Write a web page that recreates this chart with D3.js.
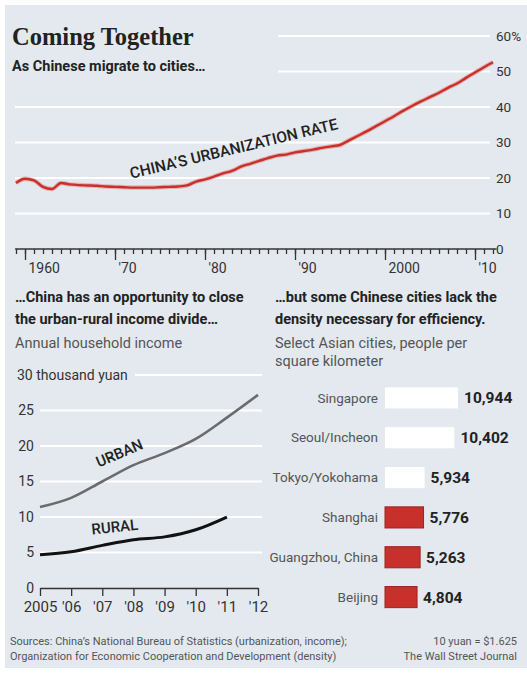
<!DOCTYPE html>
<html>
<head>
<meta charset="utf-8">
<script src="https://cdn.jsdelivr.net/npm/d3@7"></script>
<style>
  body { margin: 0; background: #fff; }
  svg { display: block; font-family: "Roboto", "Liberation Sans", sans-serif; }
</style>
</head>
<body>
<svg id="chart"></svg>
<script>
const width = 527, height = 673

// urbanization rate, percent of population
const urbYears = d3.range(1959, 2013)
const urbRate = [
    18.6, 19.8, 19.3, 17.5, 16.9, 18.6, 18.2, 18.0, 17.9, 17.8,
    17.6, 17.5, 17.4, 17.3, 17.3, 17.3, 17.4, 17.5, 17.6, 17.9,
    19.0, 19.6, 20.4, 21.3, 22.0, 23.2, 24.0, 24.8, 25.6, 26.3,
    26.6, 27.2, 27.6, 28.0, 28.5, 28.9, 29.3, 30.6, 31.9, 33.2,
    34.6, 36.0, 37.4, 38.9, 40.3, 41.6, 42.8, 44.0, 45.4, 46.6,
    48.2, 49.7, 51.2, 52.6,
]
const urbYTicks = [0, 10, 20, 30, 40, 50, 60]
const urbMajor = [1960, 1970, 1980, 1990, 2000, 2010]
const urbMajorLabels = ["1960", "'70", "'80", "'90", "2000", "'10"]

// annual household income, thousand yuan
const incomeYears = [2005, 2006, 2007, 2008, 2009, 2010, 2011, 2012]
const urbanIncome = [11.4, 12.7, 15.0, 17.3, 19.0, 21.0, 24.0, 27.2]
const ruralYears = [2005, 2006, 2007, 2008, 2009, 2010, 2011]
const ruralIncome = [4.7, 5.1, 6.0, 6.8, 7.2, 8.2, 10.0]
const incomeYTicks = [0, 5, 10, 15, 20, 25, 30]
const incomeXLabels = ["2005", "'06", "'07", "'08", "'09", "'10", "'11", "'12"]

// density, people per square kilometer
const cities = ["Singapore", "Seoul/Incheon", "Tokyo/Yokohama", "Shanghai", "Guangzhou, China", "Beijing"]
const density = [10944, 10402, 5934, 5776, 5263, 4804]
const isChinese = [false, false, false, true, true, true]

const bg = "#e3e9ef", red = "#c8302c", ink = "#222", grayText = "#555"

const svg = d3.select("svg#chart")
    .attr("viewBox", [0, 0, width, height])
    .attr("width", width)
    .attr("height", height)

svg.append("rect")
    .attr("x", 5).attr("y", 5)
    .attr("width", width - 5).attr("height", height - 10)
    .attr("fill", bg)

// Titles
svg.append("text")
    .attr("x", 12).attr("y", 45)
    .attr("font-family", "Liberation Serif, serif")
    .attr("font-weight", "bold")
    .attr("font-size", 24.5)
    .attr("fill", ink)
    .text("Coming Together")

svg.append("text")
    .attr("x", 12).attr("y", 71)
    .attr("font-weight", "bold")
    .attr("font-size", 14.5)
    .attr("fill", ink)
    .text("As Chinese migrate to cities…")

// ---------- Top: urbanization rate ----------
const x1 = d3.scaleLinear().domain([1960, 2010]).range([25, 475])
const y1 = d3.scaleLinear().domain([0, 60]).range([249, 36])

svg.append("g").classed("h-grid", true)
    .selectAll("line")
    .data(urbYTicks.filter(d => d > 0))
    .join("line")
    .attr("x1", d => d >= 50 ? 278 : 15)
    .attr("x2", 490)
    .attr("y1", d => y1(d))
    .attr("y2", d => y1(d))
    .attr("stroke", "#fff")
    .attr("stroke-width", 2.2)

svg.append("g").classed("y-labels", true)
    .selectAll("text")
    .data(urbYTicks)
    .join("text")
    .attr("x", 496)
    .attr("y", d => y1(d))
    .attr("dy", "0.35em")
    .attr("font-size", 13.5)
    .attr("fill", "#333")
    .text(d => d === 60 ? "60%" : d)

// minor ticks
svg.append("g").classed("x-minor", true)
    .attr("transform", `translate(0, ${y1(0)})`)
    .call(d3.axisBottom(x1).tickValues(urbYears).tickSize(5).tickSizeOuter(0).tickFormat(""))
    .call(g => g.select(".domain").attr("d", `M${x1(1958.9)},0H${x1(2012.4)}`))

svg.append("g").classed("x-major", true)
    .attr("transform", `translate(0, ${y1(0)})`)
    .call(d3.axisBottom(x1).tickValues(urbMajor).tickSize(11).tickFormat((d, i) => urbMajorLabels[i]))
    .call(g => g.select(".domain").remove())
    .call(g => g.selectAll("text")
        .attr("text-anchor", "start")
        .attr("x", 3)
        .attr("y", 14)
        .attr("font-size", 14)
        .attr("font-family", "Roboto, sans-serif")
        .attr("fill", "#333"))

svg.selectAll(".x-minor line, .x-major line, .x-minor path").attr("stroke", "#333").attr("stroke-width", 1.3)

const urbLine = d3.line()
    .x((d, i) => x1(urbYears[i]))
    .y(d => y1(d))
    .curve(d3.curveMonotoneX)

svg.append("path")
    .datum(urbRate)
    .attr("d", urbLine)
    .attr("fill", "none")
    .attr("stroke", "#e48f8a")
    .attr("stroke-width", 4.5)
    .attr("opacity", 0.6)

svg.append("path")
    .datum(urbRate)
    .attr("d", urbLine)
    .attr("fill", "none")
    .attr("stroke", red)
    .attr("stroke-width", 2.4)

svg.append("text")
    .attr("transform", `translate(${x1(1983.2)}, ${y1(28.3)}) rotate(-13.5)`)
    .attr("text-anchor", "middle")
    .attr("dy", "0.35em")
    .attr("font-size", 15.5)
    .attr("font-weight", 500)
    .attr("fill", ink)
    .text("CHINA’S URBANIZATION RATE")

// ---------- Bottom left: income ----------
svg.append("text").attr("x", 15).attr("y", 302)
    .attr("font-weight", "bold").attr("font-size", 14.5).attr("fill", ink)
    .text("…China has an opportunity to close")
svg.append("text").attr("x", 15).attr("y", 324)
    .attr("font-weight", "bold").attr("font-size", 14.5).attr("fill", ink)
    .text("the urban-rural income divide…")
svg.append("text").attr("x", 15).attr("y", 348)
    .attr("font-size", 14.5).attr("fill", grayText)
    .text("Annual household income")

const x2 = d3.scaleLinear().domain([2005, 2012]).range([40, 258])
const y2 = d3.scaleLinear().domain([0, 30]).range([588, 375])

svg.append("g").classed("h-grid", true)
    .selectAll("line")
    .data(incomeYTicks.filter(d => d > 0))
    .join("line")
    .attr("x1", d => d === 30 ? 135 : 40)
    .attr("x2", 262)
    .attr("y1", d => y2(d))
    .attr("y2", d => y2(d))
    .attr("stroke", "#fff")
    .attr("stroke-width", 2.2)

svg.append("g").classed("y-labels", true)
    .selectAll("text")
    .data(incomeYTicks)
    .join("text")
    .attr("x", d => d === 30 ? 17 : 34)
    .attr("y", d => y2(d))
    .attr("dy", "0.35em")
    .attr("text-anchor", d => d === 30 ? "start" : "end")
    .attr("font-size", 14)
    .attr("fill", "#333")
    .text(d => d === 30 ? "30 thousand yuan" : d)

svg.append("g").classed("x-axis2", true)
    .attr("transform", `translate(0, ${y2(0)})`)
    .call(d3.axisBottom(x2).tickValues(incomeYears).tickSize(8).tickSizeOuter(0)
        .tickFormat((d, i) => incomeXLabels[i]))
    .call(g => g.selectAll("line, path").attr("stroke", "#333").attr("stroke-width", 1.3))
    .call(g => g.selectAll("text")
        .attr("y", 13)
        .attr("font-size", 15)
        .attr("font-family", "Roboto, sans-serif")
        .attr("fill", "#333"))

const incLine = (xs) => d3.line()
    .x((d, i) => x2(xs[i]))
    .y(d => y2(d))
    .curve(d3.curveMonotoneX)

svg.append("path")
    .datum(urbanIncome)
    .attr("d", incLine(incomeYears))
    .attr("fill", "none")
    .attr("stroke", "#6b6b6b")
    .attr("stroke-width", 2.6)

svg.append("path")
    .datum(ruralIncome)
    .attr("d", incLine(ruralYears))
    .attr("fill", "none")
    .attr("stroke", "#111")
    .attr("stroke-width", 3)

svg.append("text")
    .attr("transform", `translate(${x2(2007.55)}, ${y2(19.0)}) rotate(-23)`)
    .attr("text-anchor", "middle").attr("dy", "0.35em")
    .attr("font-size", 15).attr("font-weight", 500).attr("fill", ink)
    .text("URBAN")

svg.append("text")
    .attr("transform", `translate(${x2(2007.4)}, ${y2(8.6)}) rotate(-6)`)
    .attr("text-anchor", "middle").attr("dy", "0.35em")
    .attr("font-size", 15).attr("font-weight", 500).attr("fill", ink)
    .text("RURAL")

// ---------- Bottom right: density ----------
svg.append("text").attr("x", 275).attr("y", 302)
    .attr("font-weight", "bold").attr("font-size", 14.5).attr("fill", ink)
    .text("…but some Chinese cities lack the")
svg.append("text").attr("x", 275).attr("y", 324)
    .attr("font-weight", "bold").attr("font-size", 14.5).attr("fill", ink)
    .text("density necessary for efficiency.")
svg.append("text").attr("x", 275).attr("y", 348)
    .attr("font-size", 14.5).attr("fill", grayText)
    .text("Select Asian cities, people per")
svg.append("text").attr("x", 275).attr("y", 366)
    .attr("font-size", 14.5).attr("fill", grayText)
    .text("square kilometer")

const x3 = d3.scaleLinear().domain([0, 11000]).range([385, 458.4])
const y3 = d3.scaleBand().domain(cities).range([378, 617]).paddingInner(0.47).paddingOuter(0.235)

const rows = svg.append("g").classed("bars", true)
    .selectAll("g")
    .data(cities)
    .join("g")

rows.append("rect")
    .attr("x", x3(0))
    .attr("y", d => y3(d))
    .attr("width", (d, i) => x3(density[i]) - x3(0))
    .attr("height", y3.bandwidth())
    .attr("fill", (d, i) => isChinese[i] ? red : "#fff")
    .attr("stroke", (d, i) => isChinese[i] ? "#9e2320" : "none")
    .attr("stroke-width", 1)

rows.append("text")
    .attr("x", 378)
    .attr("y", d => y3(d) + y3.bandwidth() / 2)
    .attr("dy", "0.35em")
    .attr("text-anchor", "end")
    .attr("font-size", 13.5)
    .attr("fill", grayText)
    .text(d => d)

rows.append("text")
    .attr("x", (d, i) => x3(density[i]) + 6)
    .attr("y", d => y3(d) + y3.bandwidth() / 2)
    .attr("dy", "0.35em")
    .attr("font-weight", "bold")
    .attr("font-size", 15.5)
    .attr("fill", ink)
    .text((d, i) => d3.format(",")(density[i]))

// ---------- Footer ----------
const foot = svg.append("g").attr("font-size", 11).attr("fill", grayText)
foot.append("text").attr("x", 10).attr("y", 645)
    .text("Sources: China’s National Bureau of Statistics (urbanization, income);")
foot.append("text").attr("x", 10).attr("y", 660)
    .text("Organization for Economic Cooperation and Development (density)")
foot.append("text").attr("x", 517).attr("y", 645).attr("text-anchor", "end")
    .text("10 yuan = $1.625")
foot.append("text").attr("x", 517).attr("y", 660).attr("text-anchor", "end")
    .text("The Wall Street Journal")
</script>
</body>
</html>
